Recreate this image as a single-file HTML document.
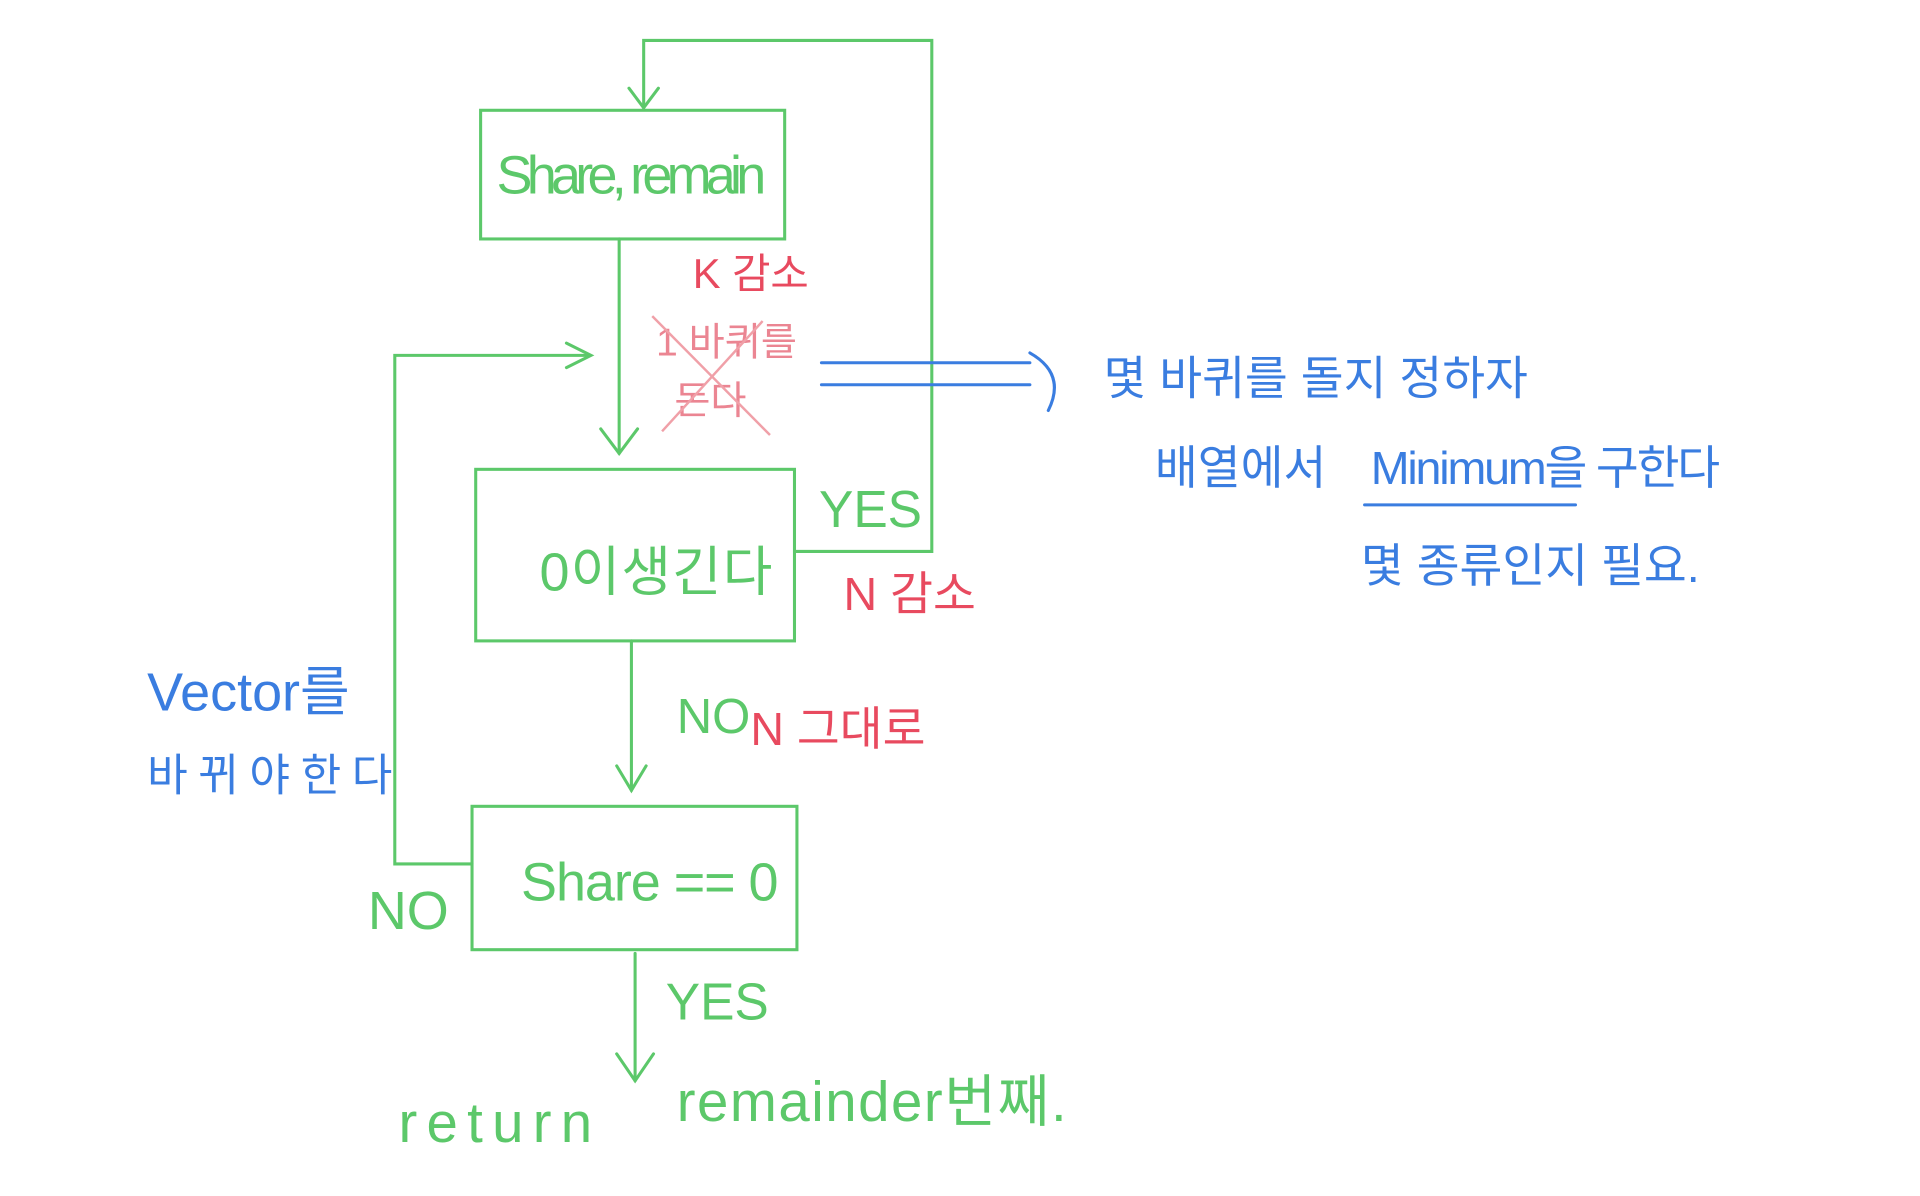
<!DOCTYPE html>
<html><head><meta charset="utf-8"><style>
html,body{margin:0;padding:0;background:#fff;}
svg{display:block;}
text{font-family:"Liberation Sans","Noto Sans CJK KR",sans-serif;}
</style></head><body>
<svg width="1920" height="1196" viewBox="0 0 1566 976" preserveAspectRatio="none" xmlns="http://www.w3.org/2000/svg">
<g fill="none" stroke="#5cc86a" stroke-width="2.5" stroke-linecap="round">
<rect x="392" y="90" width="248" height="105"/>
<rect x="388" y="383" width="260" height="140"/>
<rect x="385" y="658" width="265" height="117"/>
<polyline points="648,450 760,450 760,33 525,33 525,88"/>
<polyline points="513,72 525,88 537,72"/>
<line x1="505" y1="195" x2="505" y2="370"/>
<polyline points="490,350 505,370 520,350"/>
<line x1="515" y1="523" x2="515" y2="645"/>
<polyline points="503,625 515,645 527,625"/>
<polyline points="385,705 322,705 322,290 480,290"/>
<polyline points="462,280 482,290 462,300"/>
<line x1="518" y1="778" x2="518" y2="882"/>
<polyline points="503,860 518,882 533,860"/>
</g>
<g fill="#5cc86a" font-size="44">
<text x="405" y="158" textLength="220">Share, remain</text>
<text x="440" y="482" textLength="190">0이생긴다</text>
<text x="425" y="735" textLength="210">Share == 0</text>
<text x="668" y="430" font-size="42">YES</text>
<text x="552" y="598" font-size="40">NO</text>
<text x="300" y="758" font-size="44">NO</text>
<text x="543" y="832" font-size="42">YES</text>
<text x="325" y="932" font-size="46" textLength="158">return</text>
<text x="552" y="915" font-size="46" textLength="318">remainder번째.</text>
</g>
<g fill="#e84a5f">
<text x="565" y="235" font-size="34">K 감소</text>
<text x="688" y="498" font-size="38">N 감소</text>
<text x="612" y="608" font-size="38">N 그대로</text>
</g>
<g fill="#e87080" font-size="32" opacity="0.85">
<text x="535" y="290">1 바퀴를</text>
<text x="550" y="338">돈다</text>
</g>
<g stroke="#f0a0a8" stroke-width="2">
<line x1="532" y1="258" x2="628" y2="355"/>
<line x1="622" y1="262" x2="540" y2="352"/>
</g>
<g stroke="#3a7de0" stroke-width="2.5" fill="none" stroke-linecap="round">
<line x1="670" y1="296" x2="840" y2="296"/>
<line x1="670" y1="314" x2="840" y2="314"/>
<path d="M840,288 Q870,305 855,335"/>
<line x1="1113" y1="412" x2="1285" y2="412"/>
</g>
<g fill="#3a7de0" font-size="38">
<text x="900" y="322">몇 바퀴를 돌지  정하자</text>
<text x="942" y="395">배열에서</text>
<text x="1118" y="395" textLength="285">Minimum을 구한다</text>
<text x="1110" y="475">몇 종류인지 필요.</text>
<text x="120" y="580" font-size="44">Vector를</text>
<text x="120" y="645" font-size="36" textLength="200">바뀌야한다</text>
</g>
</svg>
</body></html>
